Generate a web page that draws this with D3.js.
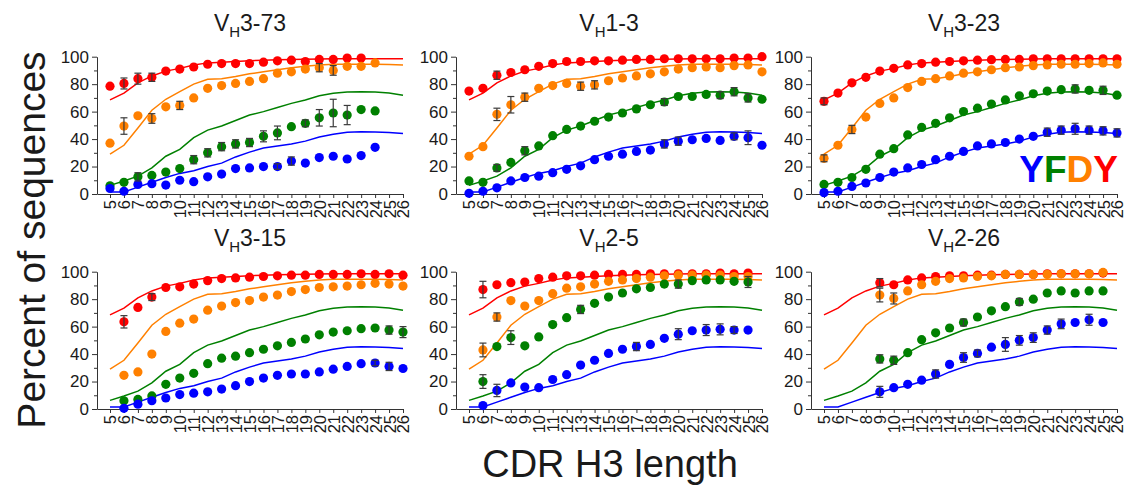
<!DOCTYPE html>
<html>
<head>
<meta charset="utf-8">
<script src="https://cdn.jsdelivr.net/npm/d3@7"></script>
<style>
  body { margin: 0; background: #fff; }
  svg { display: block; font-family: "Liberation Sans", Arial, sans-serif; }
</style>
</head>
<body>
<svg id="chart"></svg>
<script>
const width = 1126, height = 485;

// CDR H3 lengths on the x axis
const lengths = d3.range(5, 27);
const yTicks = [0, 20, 40, 60, 80, 100];
const yMinor = [10, 30, 50, 70, 90];
const colors = ["#ff0000", "#ff8000", "#008000", "#0000ff"]; // red, orange, green, blue

// Repertoire-wide reference curves (same in every panel)
const refRed    = [68.5, 73.5, 81, 86, 89.5, 91.5, 94, 95.5, 96, 96.5, 97, 97.5, 97.8, 98, 98.2, 98.4, 98.5, 98.5, 98.5, 98.5, 98.5, 98.5];
const refOrange = [29, 35.5, 48, 61, 69, 74.5, 80, 83.5, 84, 85.5, 87.5, 89, 90.5, 92, 93, 94, 94.5, 94.5, 94.5, 94.5, 94.3, 94];
const refGreen  = [6.3, 9.5, 13, 19, 27.5, 32.5, 41, 46.5, 49.5, 53.5, 57.5, 60, 63, 66, 68.5, 71.5, 73.3, 74.2, 74.5, 74.2, 73.5, 72];
const refBlue   = [1.5, 1.5, 5, 8.5, 12, 15, 17, 20, 22.5, 27, 30.5, 33.5, 35, 36.5, 38.5, 41.5, 43.5, 45, 45.3, 45.2, 44.8, 44];

// Per-gene points: [red, orange, green, blue], one value per length 5..26
const _ = null;
const vh3_73 = [
  [78.5, 80.5, 84, 85, 89.5, 91, 92.5, 94.5, 95, 95, 95, 96, 97, 97.5, 96.5, 98, 98, 99, 99, _, _, _],
  [37, 49.5, 57, 55, 63.5, 64.5, 70, 77, 79, 80.5, 82, 84, 88, 89, 91, 92, 90, 93, 93, 95.5, _, _],
  [6, 8.5, 12.5, 13.5, 16, 18.5, 25, 30, 34.5, 36.5, 37.5, 42, 44.5, 49, 51.5, 55.5, 59, 57.5, 61.5, 60.5, _, _],
  [4, 2, 7, 7.5, 6.5, 10, 9, 12.5, 14.5, 18.5, 19, 20, 20, 24, 22.5, 26.5, 27.5, 25.5, 28, 34, _, _]
];
const vh1_3 = [
  [75, 77, 86.5, 88.5, 90.5, 93, 95, 96.5, 96.5, 97, 97, 97.5, 98, 98, 98.5, 98.5, 98.5, 98.5, 98.5, 99, 99, 100],
  [27.5, 34.5, 58, 65, 70.5, 77, 79, 80.5, 78.5, 79.5, 82.5, 84.5, 86, 87.5, 89, 91, 92, 92.5, 92, 93.5, 94, 89],
  [9.5, 8.5, 19, 23, 31.5, 35, 42.5, 47, 49.5, 53, 56, 59, 62, 65, 67, 71, 71, 72.5, 72, 74.5, 70, 69],
  [0.5, 2, 4.5, 9.5, 12, 13, 15.5, 18, 20.5, 25, 27.5, 29, 31, 32, 36.5, 38.5, 39.5, 40.5, 39, 42, 41, 35.5]
];
const vh3_23 = [
  [67.5, 73.5, 81, 85, 89.5, 91.5, 94, 95, 96, 96.5, 97, 97.5, 97.8, 98, 98, 98.5, 98.5, 98.5, 98.5, 98.5, 98.5, 98.5],
  [26, 35.5, 47, 56, 66, 70, 77.5, 82, 84, 86, 88, 89, 90.5, 92, 92.5, 93.5, 94, 94.5, 94.5, 95, 95.5, 94.5],
  [7, 8.5, 12, 18, 29, 33, 43, 48.5, 51.5, 55.5, 60, 62.5, 65.5, 68.5, 71.5, 73, 75, 76, 76.5, 75.5, 75.5, 72],
  [1, 2, 5.5, 8, 12, 16, 19, 21.5, 25, 27.5, 31, 35, 36.5, 37.5, 40, 42, 45, 46.5, 47.5, 46.5, 46, 44.5]
];
const vh3_15 = [
  [_, 63.5, 74, 81.5, 88.5, 89, 91, 93.5, 95, 95.5, 96, 96.5, 97, 97.5, 97.5, 98, 98, 98, 98.5, 98, 98.5, 97.5],
  [_, 24.5, 27, 40, 56.5, 62.5, 65.5, 72, 75, 77.5, 79, 81.5, 83, 85.5, 87, 88.5, 89, 89.5, 90.5, 91.5, 91, 89.5],
  [_, 6, 7, 9.5, 18, 22.5, 26, 33, 37, 38.5, 41, 43.5, 46, 48.5, 51, 54, 56, 57, 58.5, 59, 57.5, 56],
  [_, 0.5, 3.5, 6, 8, 10.5, 11.5, 12.5, 14.5, 17, 20, 22.5, 24.5, 25.5, 25.5, 27, 29, 31, 33, 33.5, 31, 29.5]
];
const vh2_5 = [
  [_, 87, 90.5, 92, 92.5, 95, 96, 97, 97, 97.5, 98, 98, 98, 98.5, 98.5, 98.5, 98.5, 98.5, 99, 98.5, 99, _],
  [_, 43, 67, 79, 75, 79, 84, 88, 89, 91, 93, 94, 95, 96, 97, 97.5, 97.5, 97.5, 97.5, 96.5, 96.5, _],
  [_, 20, 45.5, 52, 46, 52.5, 61.5, 66.5, 72.5, 77, 81.5, 84.5, 87.5, 88.5, 91, 91, 93.5, 94, 94, 93, 92.5, _],
  [_, 2.5, 13.5, 19, 16, 15.5, 21.5, 25, 32, 35.5, 40.5, 43.5, 45.5, 47, 51.5, 54.5, 57, 57.5, 58, 57.5, 57.5, _]
];
const vh2_26 = [
  [_, _, _, _, 92, 90.5, 94, 95.5, 96.5, 97, 97, 97.5, 97.5, 98, 98, 98, 98.5, 98.5, 98.5, 98.5, 99, _],
  [_, _, _, _, 83, 80.5, 86, 90.5, 93, 95, 95.5, 96.5, 97, 98, 98, 98, 98, 98.5, 98.5, 98.5, 99.5, _],
  [_, _, _, _, 36.5, 35.5, 41, 50.5, 55.5, 59, 63, 67, 71.5, 74.5, 78, 80, 84.5, 86, 84.5, 86, 86, _],
  [_, _, _, _, 12.5, 15.5, 18, 21, 25.5, 32.5, 37.5, 40.5, 45, 47, 50, 52, 57.5, 62, 63, 65, 63, _]
];

// Error bars: [series, length, half-width]
const vh3_73Err = [[0,6,4],[0,7,4],[0,8,3],[1,6,6],[1,8,3.5],[1,10,3],[1,20,3],[1,21,3.5],
  [2,7,3],[2,11,3],[2,12,3],[2,13,3],[2,14,3],[2,15,3],[2,16,4],[2,17,5],[2,19,2.5],[2,20,6],[2,21,10],[2,22,7],
  [3,17,2],[3,18,3]];
const vh1_3Err = [[0,7,3],[1,7,4.5],[1,8,6],[1,9,3],[1,13,3],[1,14,3],
  [2,7,2.5],[2,9,3],[2,19,2.5],[2,23,2.5],[2,24,3],[2,25,3],[3,19,3],[3,20,3],[3,24,2.5],[3,25,5]];
const vh3_23Err = [[0,5,2.5],[1,5,2.5],[1,7,3],[2,23,3],[2,25,3],
  [3,21,3],[3,22,3],[3,23,4],[3,24,3],[3,25,3],[3,26,3]];
const vh3_15Err = [[0,6,4.5],[0,8,2.5],[2,25,3],[2,26,4],[3,24,2],[3,25,3]];
const vh2_5Err = [[0,6,6],[1,6,5],[1,7,3],[2,6,5],[2,8,5],[2,13,3],[2,20,3],[2,25,4],
  [3,7,4.5],[3,17,3],[3,20,4],[3,22,4],[3,23,4],[3,24,2.5]];
const vh2_26Err = [[0,9,3],[1,9,5],[1,10,4],[2,9,3],[2,10,3],[2,15,2.5],[2,19,2.5],
  [3,9,4],[3,13,3],[3,15,3.5],[3,16,2.5],[3,18,5],[3,19,3.5],[3,20,3.5],[3,21,3],[3,22,3.5],[3,24,4]];

const panels = [
  { gene: "3-73", data: vh3_73, err: vh3_73Err, ox: 97,  oy: 194 },
  { gene: "1-3",  data: vh1_3,  err: vh1_3Err,  ox: 456, oy: 194 },
  { gene: "3-23", data: vh3_23, err: vh3_23Err, ox: 811, oy: 194 },
  { gene: "3-15", data: vh3_15, err: vh3_15Err, ox: 97,  oy: 409 },
  { gene: "2-5",  data: vh2_5,  err: vh2_5Err,  ox: 456, oy: 409 },
  { gene: "2-26", data: vh2_26, err: vh2_26Err, ox: 811, oy: 409 }
];
const refs = [refRed, refOrange, refGreen, refBlue];

const svg = d3.select("#chart").attr("width", width).attr("height", height);

// x: length 5 sits 13px right of the y axis, 26 at 306px
const x = d3.scaleLinear().domain([5 - 13 / 13.95, 26]).range([0, 306]);
const y = d3.scaleLinear().domain([0, 100]).range([0, -137.3]);

const line = d3.line()
  .defined(d => d != null)
  .x((d, i) => x(lengths[i]))
  .y(d => y(d));

panels.forEach(p => {
  const g = svg.append("g").attr("transform", `translate(${p.ox},${p.oy})`);

  // axes
  const xAxis = g.append("g")
    .call(d3.axisBottom(x).tickValues(lengths).tickSize(4).tickSizeOuter(0).tickFormat(d3.format("d")));
  xAxis.selectAll("text")
    .attr("transform", "rotate(-90)")
    .attr("text-anchor", "end")
    .attr("x", -6).attr("y", 0).attr("dy", "0.36em")
    .attr("font-size", 16.5).attr("fill", "#1a1a1a");

  const yAxis = g.append("g")
    .call(d3.axisLeft(y).tickValues(yTicks).tickSize(5).tickSizeOuter(0).tickPadding(3));
  yAxis.selectAll("text").attr("font-size", 17).attr("fill", "#1a1a1a");
  g.append("g")
    .call(d3.axisLeft(y).tickValues(yMinor).tickSize(3).tickFormat(""))
    .select(".domain").remove();
  g.selectAll(".domain, .tick line").attr("stroke", "#333");

  // reference curves
  refs.forEach((r, i) => {
    g.append("path")
      .datum(r)
      .attr("d", line)
      .attr("fill", "none")
      .attr("stroke", colors[i])
      .attr("stroke-width", 1.5);
  });

  // points
  p.data.forEach((vals, i) => {
    g.selectAll(null)
      .data(vals.map((v, j) => ({ len: lengths[j], v })).filter(d => d.v != null))
      .enter().append("circle")
      .attr("cx", d => x(d.len))
      .attr("cy", d => y(d.v))
      .attr("r", 4.6)
      .attr("fill", colors[i]);
  });

  // error bars
  const eb = g.selectAll(".eb")
    .data(p.err)
    .enter().append("g")
    .attr("stroke", "#3a3a3a")
    .attr("stroke-width", 1.2);
  eb.append("line")
    .attr("x1", d => x(d[1])).attr("x2", d => x(d[1]))
    .attr("y1", d => y(p.data[d[0]][d[1] - 5] - d[2]))
    .attr("y2", d => y(p.data[d[0]][d[1] - 5] + d[2]));
  [-1, 1].forEach(s => {
    eb.append("line")
      .attr("x1", d => x(d[1]) - 3.5).attr("x2", d => x(d[1]) + 3.5)
      .attr("y1", d => y(p.data[d[0]][d[1] - 5] + s * d[2]))
      .attr("y2", d => y(p.data[d[0]][d[1] - 5] + s * d[2]));
  });

  // panel title
  const t = g.append("text")
    .attr("x", 153).attr("y", -163)
    .attr("text-anchor", "middle")
    .attr("font-size", 23).attr("fill", "#1a1a1a");
  t.append("tspan").text("V");
  t.append("tspan").text("H").attr("font-size", 15).attr("dy", 6);
  t.append("tspan").text(p.gene).attr("dy", -6);
});

// axis titles
svg.append("text")
  .attr("transform", "translate(45,240) rotate(-90)")
  .attr("text-anchor", "middle")
  .attr("font-size", 39).attr("fill", "#1a1a1a")
  .text("Percent of sequences");

svg.append("text")
  .attr("x", 610).attr("y", 477)
  .attr("text-anchor", "middle")
  .attr("font-size", 38).attr("fill", "#1a1a1a")
  .text("CDR H3 length");

// YFDY legend
const legend = svg.append("text")
  .attr("x", 1118).attr("y", 182)
  .attr("text-anchor", "end")
  .attr("font-size", 37).attr("font-weight", "bold");
["Y", "F", "D", "Y"].forEach((c, i) => {
  legend.append("tspan").text(c).attr("fill", colors[3 - i]);
});
</script>
</body>
</html>
